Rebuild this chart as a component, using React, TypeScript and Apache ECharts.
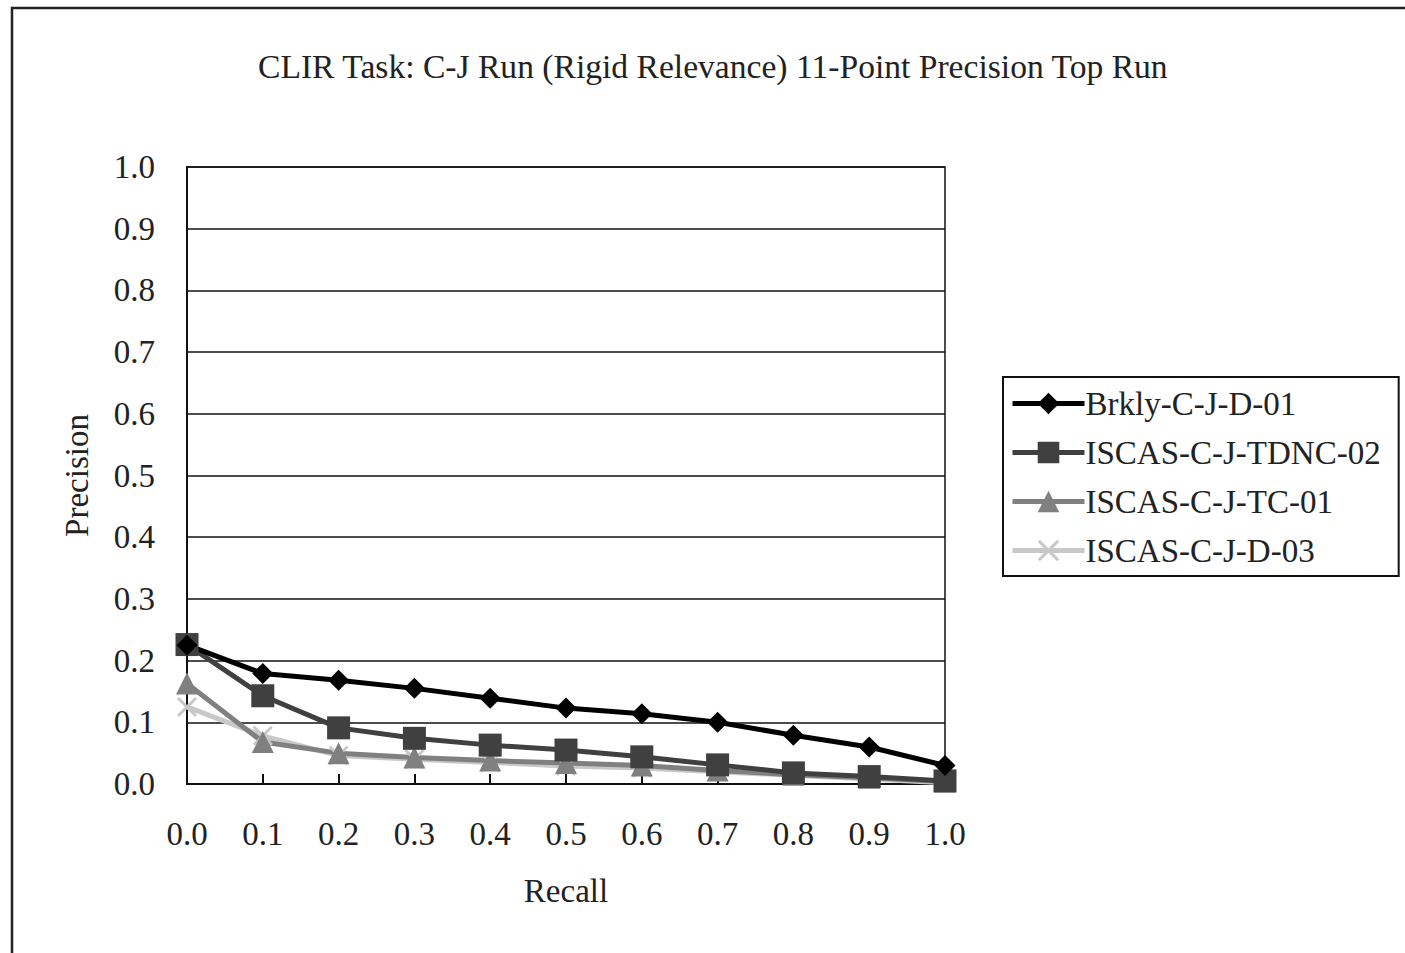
import React, { useEffect, useRef } from "react";
import * as echarts from "echarts";

// Recall levels of the 11-point precision curve
const recall = [0.0, 0.1, 0.2, 0.3, 0.4, 0.5, 0.6, 0.7, 0.8, 0.9, 1.0];

// Interpolated precision for each run
const brklyCJD01 = [0.225, 0.179, 0.168, 0.155, 0.139, 0.123, 0.114, 0.1, 0.079, 0.06, 0.03];
const iscasTDNC02 = [0.226, 0.143, 0.091, 0.074, 0.063, 0.055, 0.044, 0.031, 0.018, 0.012, 0.005];
const iscasTC01 = [0.163, 0.068, 0.05, 0.043, 0.038, 0.034, 0.03, 0.022, 0.015, 0.01, 0.004];
const iscasD03 = [0.125, 0.078, 0.046, 0.04, 0.035, 0.029, 0.026, 0.02, 0.014, 0.008, 0.002];

const runNames = ["Brkly-C-J-D-01", "ISCAS-C-J-TDNC-02", "ISCAS-C-J-TC-01", "ISCAS-C-J-D-03"];

const FONT = "'Liberation Serif', 'DejaVu Serif', serif";
const FS = 33;
const CROSS = "path://M0,1 L1,0 L5,4 L9,0 L10,1 L6,5 L10,9 L9,10 L5,6 L1,10 L0,9 L4,5 Z";

const pairs = (ys: number[]) => recall.map((x, i) => [x, ys[i]]);

export default function App() {
  const ref = useRef<HTMLDivElement>(null);

  useEffect(() => {
    if (!ref.current) return;
    const chart = echarts.init(ref.current, undefined, { renderer: "svg" });

    const line = (
      name: string,
      ys: number[],
      color: string,
      symbol: string,
      symbolSize: number
    ) => ({
      name,
      type: "line",
      data: pairs(ys),
      symbol,
      symbolSize,
      showAllSymbol: true,
      lineStyle: { color, width: 5 },
      itemStyle: { color, borderWidth: 0 },
      emphasis: { disabled: true },
    });

    chart.setOption({
      animation: false,
      backgroundColor: "#ffffff",
      title: {
        text: "CLIR Task: C-J Run (Rigid Relevance) 11-Point Precision Top Run",
        left: 253,
        top: 44,
        textStyle: { fontFamily: FONT, fontSize: 33.6, fontWeight: "normal", color: "#222" },
      },
      graphic: [
        {
          type: "rect",
          shape: { x: 12, y: 8, width: 1420, height: 980 },
          style: { fill: "none", stroke: "#222", lineWidth: 2.5 },
          silent: true,
        },
      ],
      legend: {
        orient: "vertical",
        left: 1003,
        top: 377,
        padding: [10, 18, 9, 7],
        itemWidth: 72,
        itemHeight: 27,
        itemGap: 16,
        borderColor: "#111",
        borderWidth: 2,
        data: runNames,
        lineStyle: { width: 5 },
        textStyle: { fontFamily: FONT, fontSize: FS, color: "#222", padding: [0, 0, 0, -4], lineHeight: 33 },
      },
      grid: {
        left: 187,
        top: 167,
        right: 460,
        bottom: 169,
        show: true,
        borderColor: "#111",
        borderWidth: 1.5,
        containLabel: false,
      },
      xAxis: {
        type: "value",
        min: 0,
        max: 1,
        interval: 0.1,
        name: "Recall",
        nameLocation: "middle",
        nameGap: 90,
        nameTextStyle: { fontFamily: FONT, fontSize: FS, color: "#222" },
        axisLine: { show: true, lineStyle: { color: "#111", width: 2 } },
        axisTick: { show: true, inside: true, length: 10, lineStyle: { color: "#111", width: 2 } },
        axisLabel: {
          margin: 33,
          fontFamily: FONT,
          fontSize: FS,
          color: "#222",
          formatter: (v: number) => v.toFixed(1),
        },
        splitLine: { show: false },
      },
      yAxis: {
        type: "value",
        min: 0,
        max: 1,
        interval: 0.1,
        name: "Precision",
        nameLocation: "middle",
        nameGap: 94,
        nameRotate: 90,
        nameTextStyle: { fontFamily: FONT, fontSize: FS, color: "#222" },
        axisLine: { show: true, lineStyle: { color: "#111", width: 2 } },
        axisTick: { show: false },
        axisLabel: {
          margin: 32,
          fontFamily: FONT,
          fontSize: FS,
          color: "#222",
          formatter: (v: number) => v.toFixed(1),
        },
        splitLine: { show: true, lineStyle: { color: "#111", width: 1.5 } },
      },
      series: [
        line(runNames[3], iscasD03, "#c8c8c8", CROSS, 20),
        line(runNames[2], iscasTC01, "#808080", "triangle", 22),
        line(runNames[1], iscasTDNC02, "#404040", "rect", 23),
        line(runNames[0], brklyCJD01, "#000000", "diamond", 21),
      ],
    });

    return () => chart.dispose();
  }, []);

  return (
    <div
      ref={ref}
      style={{ position: "absolute", left: 0, top: 0, width: 1405, height: 953, background: "#fff" }}
    />
  );
}
